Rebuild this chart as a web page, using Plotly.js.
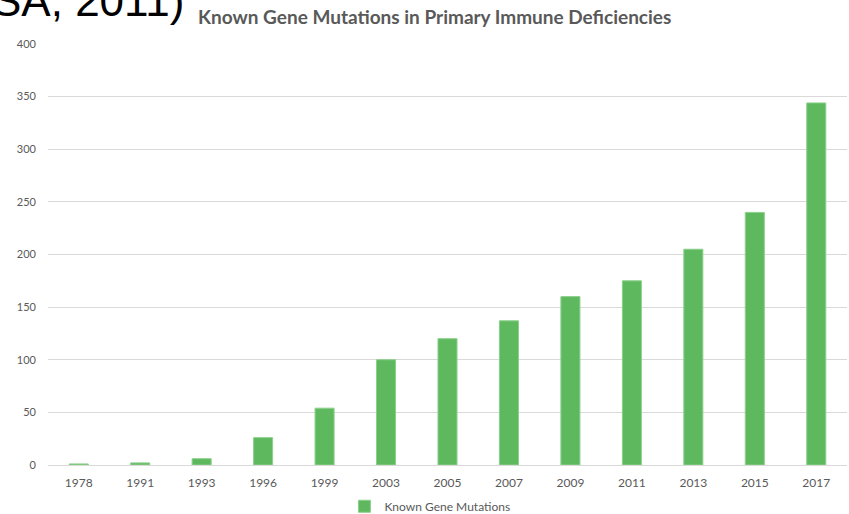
<!DOCTYPE html>
<html><head><meta charset="utf-8">
<script src="https://cdn.plot.ly/plotly-3.0.1.min.js"></script>
<style>html,body{margin:0;padding:0;background:#fff}#chart{width:849px;height:514px}</style>
</head><body><div id="chart"></div>
<script>
const years = ["1978","1991","1993","1996","1999","2003","2005","2007","2009","2011","2013","2015","2017"];
const mutations = [1, 2, 6, 26, 54, 100, 120, 137, 160, 175, 205, 240, 344];
const seriesName = "Known Gene Mutations";
const chartTitle = "Known Gene Mutations in Primary Immune Deficiencies";
const cornerText = "SA, 2011)";
const yTicks = [0, 50, 100, 150, 200, 250, 300, 350, 400];

const font = "Lato, 'Open Sans', sans-serif";
Plotly.newPlot("chart", [{
  type: "bar", x: years, y: mutations, name: seriesName,
  marker: {color: "#5eb95e", line: {color: "#8cd08c", width: 1}},
  showlegend: true
}], {
  width: 849, height: 514,
  margin: {l: 48, r: 2, t: 44, b: 49, autoexpand: false},
  paper_bgcolor: "#fff", plot_bgcolor: "#fff",
  bargap: 0.69,
  title: {text: chartTitle, font: {family: font, size: 19, color: "#595959", weight: "bold"}, x: 0.512, xanchor: "center", y: 0.967, yanchor: "middle", automargin: false},
  xaxis: {type: "category", tickfont: {family: font, size: 12, color: "#595959"}, showgrid: false, showline: true, linecolor: "#d9d9d9", linewidth: 1, ticks: "", ticklabelstandoff: 7, fixedrange: true, automargin: false},
  yaxis: {range: [0, 400], tickvals: yTicks, tickfont: {family: font, size: 11, color: "#595959"}, gridcolor: "#d9d9d9", gridwidth: 1, zeroline: true, zerolinecolor: "#d9d9d9", zerolinewidth: 1, showline: false, ticks: "", ticklabelstandoff: 11, automargin: false},
  legend: {orientation: "h", x: 0.478, xanchor: "center", y: -0.098, yanchor: "middle", font: {family: font, size: 12, color: "#595959"}, itemwidth: 30},
  annotations: [{text: cornerText, xref: "paper", yref: "paper", x: -0.072, xanchor: "left", y: 1.04, yanchor: "bottom", showarrow: false, font: {family: "'Liberation Sans', Arial, sans-serif", size: 44, color: "#000"}}]
}, {displayModeBar: false});
</script></body></html>
